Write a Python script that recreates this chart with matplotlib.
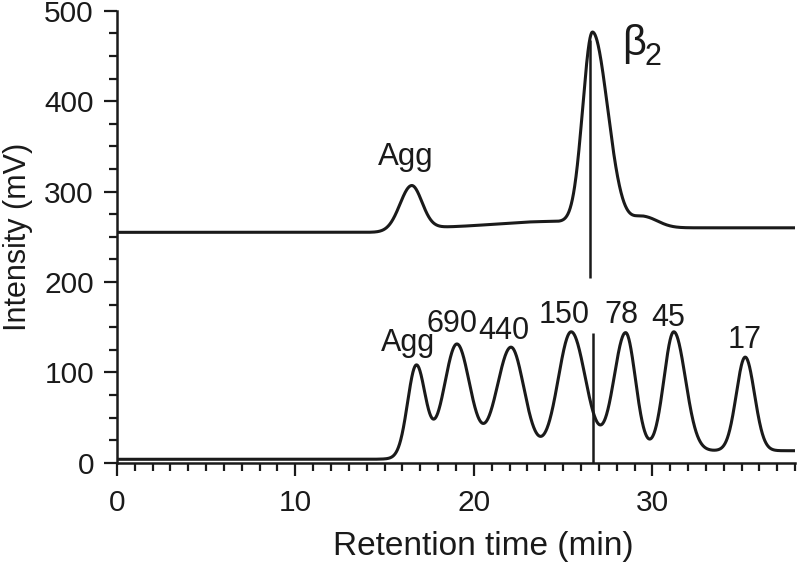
import matplotlib
matplotlib.use('Agg')
import matplotlib.pyplot as plt
from matplotlib.ticker import MultipleLocator
import numpy as np

plt.rcParams['font.family'] = ['Liberation Sans', 'DejaVu Sans']

# Upper trace (beta2 sample): peaks
upper_times = [16.5, 24.3, 26.65, 29.5]          # min
upper_heights = [49, 7, 213, 12]                  # mV above baseline
upper_sigma_left = [0.65, 3.0, 0.55, 0.6]
upper_sigma_right = [0.58, 2.0, 0.85, 0.8]
upper_baseline = [255, 260]                       # before / after the Agg peak

# Lower trace (calibration standards)
lower_labels = ['Agg', '690', '440', '150', '78', '45', '17']
lower_times = [16.77, 19.05, 22.08, 25.45, 28.5, 31.2, 35.2]
lower_heights = [96.5, 118, 114.5, 131.5, 130.5, 131.5, 103.5]
lower_sigma_left = [0.48, 0.70, 0.78, 0.72, 0.65, 0.55, 0.50]
lower_sigma_right = [0.50, 0.72, 0.72, 0.80, 0.55, 0.65, 0.52]
lower_baseline = [4, 13.5]

# label anchors (x, y baseline of text)
lower_label_x = [16.3, 18.8, 21.7, 25.05, 28.25, 30.9, 35.15]
lower_label_y = [124, 145, 137, 155, 155, 151, 127]
upper_label_x = [16.2]
upper_label_y = [330]

# vertical markers at beta2 retention time
marker_x = [26.5, 26.65]
marker_bottom = [204, 0]
marker_top = [468, 144]

INK = '#1a1a1a'


def trace(t, times, heights, sl, sr, baseline, step_at, step_w=0.4):
    y = baseline[0] + (baseline[1] - baseline[0]) / (1 + np.exp(-(t - step_at) / step_w))
    for c, h, a, b in zip(times, heights, sl, sr):
        s = np.where(t < c, a, b)
        y = y + h * np.exp(-(t - c) ** 2 / (2 * s ** 2))
    return y


def main():
    t = np.linspace(0, 38, 3000)
    upper = trace(t, upper_times, upper_heights, upper_sigma_left,
                  upper_sigma_right, upper_baseline, 16.5)
    lower = trace(t, lower_times, lower_heights, lower_sigma_left,
                  lower_sigma_right, lower_baseline, 16.3)

    fig = plt.figure(figsize=(8, 5.68), dpi=100)
    ax = fig.add_axes([0.146, 0.185, 0.848, 0.796])

    ax.plot(t, upper, color=INK, lw=2.2)
    ax.plot(t, lower, color=INK, lw=2.2)
    ax.vlines(marker_x, marker_bottom, marker_top, color=INK, lw=1.8)

    for lab, x, y in zip(lower_labels, lower_label_x, lower_label_y):
        ax.text(x, y, lab, ha='center', va='baseline', fontsize=22, color=INK)
    for x, y in zip(upper_label_x, upper_label_y):
        ax.text(x, y, 'Agg', ha='center', va='baseline', fontsize=22.5, color=INK)
    ax.text(28.3, 451, 'β', ha='left', va='baseline', fontsize=30, color=INK)
    ax.text(29.55, 440, '2', ha='left', va='baseline', fontsize=22, color=INK)

    ax.set_xlim(0, 38)
    ax.set_ylim(0, 500)
    ax.xaxis.set_major_locator(MultipleLocator(10))
    ax.xaxis.set_minor_locator(MultipleLocator(1))
    ax.yaxis.set_major_locator(MultipleLocator(100))
    ax.yaxis.set_minor_locator(MultipleLocator(25))

    for side in ['top', 'right']:
        ax.spines[side].set_visible(False)
    for side in ['left', 'bottom']:
        ax.spines[side].set_linewidth(1.8)
        ax.spines[side].set_color(INK)
    ax.tick_params(which='major', length=9.5, width=1.6, labelsize=21.5,
                   colors=INK)
    ax.tick_params(which='minor', length=5.8, width=1.6, colors=INK)
    ax.tick_params(axis='x', which='major', pad=9)
    ax.tick_params(axis='y', which='major', pad=7)

    ax.set_xlabel('Retention time (min)', fontsize=24, color=INK)
    ax.set_ylabel('Intensity (mV)', fontsize=22, color=INK)
    ax.xaxis.set_label_coords(0.54, -0.15)
    ax.yaxis.set_label_coords(-0.124, 0.5)

    fig.savefig('out.png', dpi=100)


if __name__ == "__main__":
    main()
